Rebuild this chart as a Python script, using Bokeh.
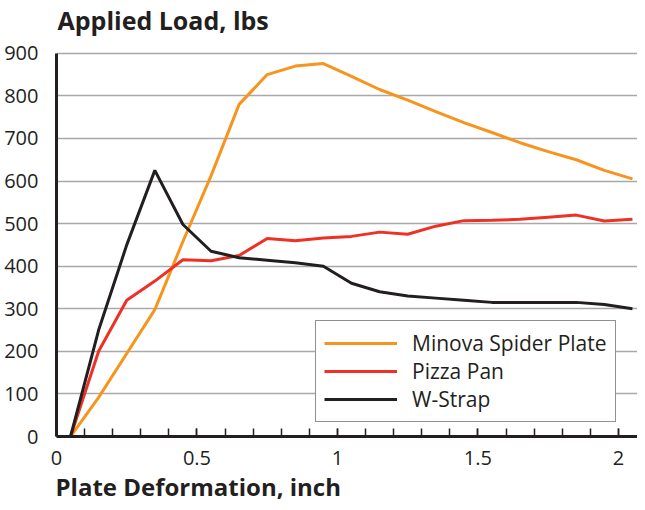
from bokeh.plotting import figure
from bokeh.models import Range1d, FixedTicker, Legend, LegendItem, Label, Title
from bokeh.embed import file_html
from bokeh.resources import INLINE

# Data
deformation = [0.05, 0.15, 0.25, 0.35, 0.45, 0.55, 0.65, 0.75, 0.85, 0.95, 1.05,
               1.15, 1.25, 1.35, 1.45, 1.55, 1.65, 1.75, 1.85, 1.95, 2.05]
minova = [0, 92, 195, 298, 458, 612, 780, 850, 870, 876, 846,
          815, 790, 763, 737, 714, 690, 669, 650, 625, 605]
pizza_pan = [0, 200, 320, 365, 415, 413, 425, 465, 460, 466, 470,
             480, 475, 494, 507, 508, 510, 515, 520, 506, 510]
w_strap = [0, 250, 450, 625, 498, 435, 420, 414, 408, 400, 360,
           340, 330, 325, 320, 315, 315, 315, 315, 310, 300]

series_names = ["Minova Spider Plate", "Pizza Pan", "W-Strap"]
series_colors = ["#f7941d", "#ee3124", "#231f20"]

y_ticks = [0, 100, 200, 300, 400, 500, 600, 700, 800, 900]
x_major_ticks = [0, 0.5, 1, 1.5, 2]
x_minor_ticks = [0.1, 0.2, 0.3, 0.4, 0.5, 0.6, 0.7, 0.8, 0.9, 1.0,
                 1.1, 1.2, 1.3, 1.4, 1.5, 1.6, 1.7, 1.8, 1.9, 2.0]

y_title = "Applied Load, lbs"
x_title = "Plate Deformation, inch"

FONT = "Open Sans"
INK = "#231f20"

# frame spans the full height above the x axis; the y axis line is bounded to 0..900
p = figure(width=637, height=502, output_backend="svg", toolbar_location=None,
           x_range=Range1d(0, 2.068), y_range=Range1d(0, 1024),
           min_border_left=56, min_border_right=0, min_border_top=0,
           min_border_bottom=0)
p.background_fill_color = "white"
p.border_fill_color = "white"
p.outline_line_color = None
p.title = None

p.add_layout(Label(x=1, y=417, x_units="screen", y_units="screen", text=y_title,
                   text_font=FONT, text_font_size="25px", text_font_style="bold",
                   text_color=INK, text_baseline="alphabetic"))

p.add_layout(Title(text=x_title, align="left", text_font=FONT,
                   text_font_size="24px", text_font_style="bold", text_color=INK,
                   standoff=0, offset=-1),
             "below")

# grids
p.xgrid.grid_line_color = None
p.ygrid.ticker = FixedTicker(ticks=y_ticks)
p.ygrid.grid_line_color = "#a7a9ac"
p.ygrid.grid_line_width = 1.5

# y axis
p.yaxis.ticker = FixedTicker(ticks=y_ticks)
p.yaxis.bounds = (0, 900)
p.yaxis.axis_line_color = INK
p.yaxis.axis_line_width = 3
p.yaxis.major_tick_line_color = None
p.yaxis.minor_tick_line_color = None
p.yaxis.major_label_text_font = FONT
p.yaxis.major_label_text_font_size = "20px"
p.yaxis.major_label_text_color = INK
p.yaxis.major_label_standoff = 12

# x axis
p.xaxis.ticker = FixedTicker(ticks=x_major_ticks, minor_ticks=x_minor_ticks)
p.xaxis.axis_line_color = INK
p.xaxis.axis_line_width = 3
p.xaxis.major_tick_line_color = INK
p.xaxis.major_tick_line_width = 1.5
p.xaxis.major_tick_in = 8
p.xaxis.major_tick_out = 0
p.xaxis.minor_tick_line_color = INK
p.xaxis.minor_tick_line_width = 1.5
p.xaxis.minor_tick_in = 8
p.xaxis.minor_tick_out = 0
p.xaxis.major_label_text_font = FONT
p.xaxis.major_label_text_font_size = "20px"
p.xaxis.major_label_text_color = INK
p.xaxis.major_label_standoff = 14

renderers = []
for ys, col in zip([minova, pizza_pan, w_strap], series_colors):
    r = p.line(deformation, ys, line_color=col, line_width=3)
    renderers.append(r)

legend = Legend(items=[LegendItem(label=n, renderers=[r]) for n, r in zip(series_names, renderers)],
                location=(259, 14))
legend.border_line_color = INK
legend.border_line_width = 1.5
legend.background_fill_color = "white"
legend.background_fill_alpha = 1
legend.label_text_font = FONT
legend.label_text_font_size = "21px"
legend.label_text_line_height = 0.9
legend.label_text_color = INK
legend.glyph_width = 73
legend.glyph_height = 26
legend.label_height = 26
legend.label_standoff = 15
legend.spacing = 0
legend.padding = 8
legend.margin = 0
p.add_layout(legend)

open("out.html", "w").write(file_html(p, INLINE))
